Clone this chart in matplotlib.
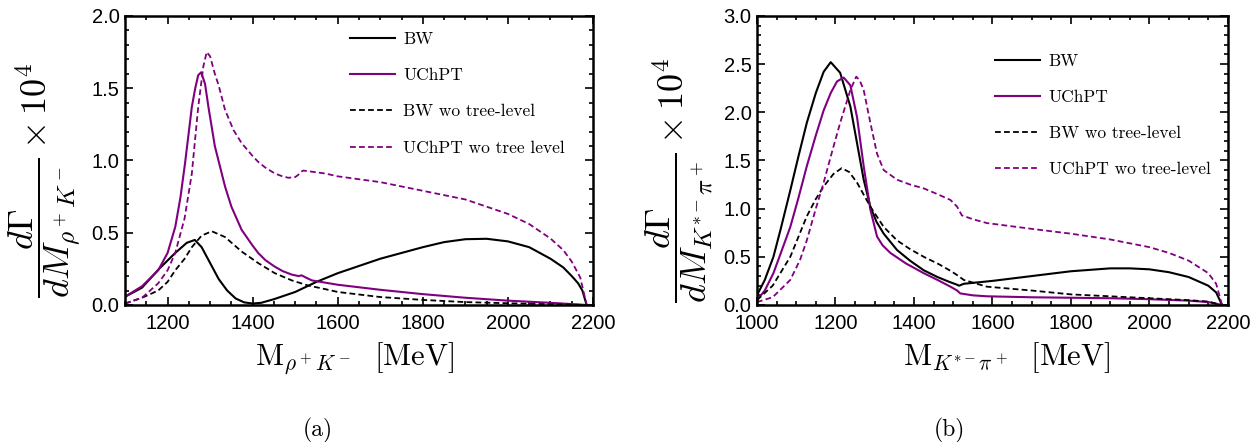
import numpy as np
import matplotlib
import matplotlib.pyplot as plt
from matplotlib.ticker import MultipleLocator, FormatStrFormatter

# ---- panel (a): rho+ K- ----
bw_a_x = [1100, 1140, 1180, 1218, 1245, 1264, 1280, 1300, 1320, 1340, 1360, 1380, 1400,
          1420, 1450, 1500, 1550, 1600, 1700, 1800, 1850, 1900, 1950, 2000, 2050, 2100, 2130,
          2150, 2165, 2175, 2185]
bw_a_y = [0.057, 0.12, 0.25, 0.36, 0.43, 0.45, 0.40, 0.29, 0.18, 0.1, 0.045, 0.018, 0.01,
          0.015, 0.04, 0.09, 0.16, 0.22, 0.32, 0.40, 0.435, 0.455, 0.458, 0.44, 0.40, 0.32, 0.26,
          0.2, 0.15, 0.1, 0.0]

uc_a_x = [1100, 1140, 1178, 1200, 1218, 1230, 1241, 1250, 1257, 1265, 1272, 1279, 1288, 1296,
          1311, 1335, 1350, 1374, 1400, 1413, 1430, 1452, 1470, 1492, 1508, 1515, 1525, 1539,
          1600, 1700, 1800, 1900, 2000, 2100, 2185]
uc_a_y = [0.057, 0.13, 0.24, 0.36, 0.54, 0.74, 0.98, 1.2, 1.37, 1.5, 1.59, 1.61, 1.53, 1.37,
          1.10, 0.82, 0.68, 0.52, 0.41, 0.36, 0.31, 0.265, 0.235, 0.21, 0.2, 0.205, 0.19, 0.17,
          0.14, 0.105, 0.075, 0.05, 0.03, 0.015, 0.0]

bwd_a_x = [1100, 1140, 1178, 1200, 1218, 1240, 1257, 1280, 1304, 1335, 1374, 1413, 1452, 1492,
           1530, 1570, 1600, 1700, 1800, 1900, 2000, 2100, 2185]
bwd_a_y = [0.01, 0.05, 0.10, 0.16, 0.24, 0.32, 0.40, 0.48, 0.51, 0.47, 0.37, 0.29, 0.22, 0.17,
           0.135, 0.11, 0.09, 0.055, 0.035, 0.02, 0.012, 0.005, 0.0]

ucd_a_x = [1100, 1140, 1178, 1200, 1218, 1240, 1257, 1272, 1284, 1292, 1300, 1311, 1320, 1335,
           1355, 1374, 1400, 1413, 1430, 1452, 1470, 1484, 1500, 1507, 1513, 1519, 1570, 1600,
           1700, 1800, 1900, 2000, 2050, 2100, 2130, 2150, 2170, 2185]
ucd_a_y = [0.01, 0.05, 0.15, 0.24, 0.36, 0.6, 0.91, 1.37, 1.65, 1.75, 1.72, 1.60, 1.52, 1.35,
           1.21, 1.12, 1.03, 0.99, 0.95, 0.91, 0.89, 0.88, 0.885, 0.9, 0.92, 0.93, 0.91, 0.89,
           0.85, 0.79, 0.73, 0.63, 0.56, 0.46, 0.38, 0.3, 0.19, 0.0]

# ---- panel (b): K*- pi+ ----
bw_b_x = [1000, 1020, 1042, 1060, 1085, 1105, 1127, 1150, 1170, 1188, 1212, 1238, 1255, 1272,
          1289, 1305, 1323, 1357, 1390, 1425, 1460, 1490, 1510, 1515, 1527, 1600, 1700,
          1800, 1900, 1950, 2000, 2050, 2100, 2150, 2170, 2185]
bw_b_y = [0.10, 0.26, 0.50, 0.78, 1.19, 1.53, 1.89, 2.2, 2.42, 2.52, 2.41, 2.06, 1.68, 1.30,
          1.02, 0.86, 0.74, 0.57, 0.46, 0.36, 0.29, 0.24, 0.21, 0.2, 0.22, 0.25, 0.3,
          0.35, 0.38, 0.38, 0.37, 0.34, 0.29, 0.2, 0.13, 0.0]

uc_b_x = [1000, 1020, 1042, 1060, 1085, 1105, 1127, 1150, 1170, 1188, 1204, 1221, 1238, 1255,
          1272, 1289, 1306, 1320, 1340, 1380, 1425, 1460, 1493, 1510, 1518, 1550, 1586, 1700,
          1800, 1900, 2000, 2100, 2150, 2185]
uc_b_y = [0.05, 0.15, 0.33, 0.53, 0.81, 1.1, 1.44, 1.76, 2.02, 2.2, 2.32, 2.36, 2.28, 1.95,
          1.44, 0.99, 0.71, 0.62, 0.54, 0.43, 0.33, 0.26, 0.19, 0.15, 0.12, 0.1, 0.09, 0.08,
          0.075, 0.07, 0.06, 0.045, 0.03, 0.0]

bwd_b_x = [1000, 1040, 1085, 1110, 1127, 1150, 1170, 1195, 1216, 1235, 1255, 1289, 1323, 1357,
           1390, 1425, 1465, 1495, 1510, 1527, 1560, 1586, 1700, 1800, 1900, 2000, 2100, 2150,
           2185]
bwd_b_y = [0.05, 0.2, 0.5, 0.75, 0.92, 1.1, 1.23, 1.36, 1.42, 1.38, 1.27, 1.02, 0.81, 0.67,
           0.58, 0.50, 0.42, 0.35, 0.31, 0.26, 0.22, 0.19, 0.15, 0.11, 0.09, 0.07, 0.05, 0.035,
           0.0]

ucd_b_x = [1000, 1040, 1085, 1110, 1127, 1150, 1170, 1190, 1212, 1238, 1253, 1262, 1272, 1289,
           1306, 1323, 1357, 1390, 1425, 1460, 1493, 1510, 1522, 1550, 1586, 1700, 1800, 1900,
           2000, 2050, 2100, 2150, 2170, 2185]
ucd_b_y = [0.03, 0.08, 0.26, 0.47, 0.67, 1.0, 1.27, 1.57, 1.89, 2.23, 2.37, 2.33, 2.23, 1.89,
           1.57, 1.40, 1.30, 1.25, 1.21, 1.15, 1.09, 1.02, 0.93, 0.89, 0.85, 0.79, 0.74, 0.68,
           0.6, 0.54, 0.46, 0.33, 0.22, 0.0]

labels = ["BW", "UChPT", "BW wo tree-level"]
label4_a = "UChPT wo tree level"
label4_b = "UChPT wo tree-level"

purple = "#800080"
dash = (0, (3.2, 1.8))

plt.rcParams["font.family"] = ["Liberation Sans", "DejaVu Sans"]
plt.rcParams["mathtext.fontset"] = "cm"


def style_axes(ax, xlim, ylim, xmin, xmaj, ymin, ymaj):
    ax.set_xlim(*xlim)
    ax.set_ylim(*ylim)
    ax.xaxis.set_major_locator(MultipleLocator(xmaj))
    ax.xaxis.set_minor_locator(MultipleLocator(xmin))
    ax.yaxis.set_major_locator(MultipleLocator(ymaj))
    ax.yaxis.set_minor_locator(MultipleLocator(ymin))
    ax.yaxis.set_major_formatter(FormatStrFormatter("%.1f"))
    ax.tick_params(which="both", direction="in", top=True, right=True, labelsize=14.5,
                   width=1.2, pad=4)
    ax.tick_params(axis="x", which="major", pad=6.5)
    ax.tick_params(which="major", length=6)
    ax.tick_params(which="minor", length=3)
    for s in ax.spines.values():
        s.set_linewidth(1.8)


fig = plt.figure(figsize=(12.58, 4.42), dpi=100)
ax1 = fig.add_axes([0.0994, 0.31, 0.372, 0.654])
ax2 = fig.add_axes([0.6017, 0.31, 0.3744, 0.654])

for ax, data, lab4 in [
    (ax1, (bw_a_x, bw_a_y, uc_a_x, uc_a_y, bwd_a_x, bwd_a_y, ucd_a_x, ucd_a_y), label4_a),
    (ax2, (bw_b_x, bw_b_y, uc_b_x, uc_b_y, bwd_b_x, bwd_b_y, ucd_b_x, ucd_b_y), label4_b),
]:
    ax.plot(data[0], data[1], color="black", lw=1.5, label=labels[0])
    ax.plot(data[2], data[3], color=purple, lw=1.5, label=labels[1])
    ax.plot(data[4], data[5], color="black", lw=1.3, ls=dash, label=labels[2])
    ax.plot(data[6], data[7], color=purple, lw=1.3, ls=dash, label=lab4)

style_axes(ax1, (1100, 2200), (0, 2.0), 50, 200, 0.1, 0.5)
style_axes(ax2, (1000, 2200), (0, 3.0), 50, 200, 0.1, 0.5)

leg_kw = dict(loc="upper left", frameon=False, prop={"family": "cmr10", "size": 12.5},
              handlelength=2.6, handletextpad=0.5, labelspacing=1.2, borderpad=0,
              borderaxespad=0)
ax1.legend(bbox_to_anchor=(0.48, 0.945), **leg_kw)
ax2.legend(bbox_to_anchor=(0.505, 0.87), **leg_kw)

ax1.set_ylabel(r"$\dfrac{d\Gamma}{dM_{\rho^+K^-}}\times 10^4$", fontsize=26)
ax2.set_ylabel(r"$\dfrac{d\Gamma}{dM_{K^{*-}\pi^+}}\times 10^4$", fontsize=26)
ax1.yaxis.set_label_coords(-0.092, 0.43)
ax2.yaxis.set_label_coords(-0.089, 0.43)

ax1.set_xlabel(r"$\mathrm{M}_{\rho^+K^-}\ \ [\mathrm{MeV}]$", fontsize=22)
ax2.set_xlabel(r"$\mathrm{M}_{K^{*-}\pi^+}\ \ [\mathrm{MeV}]$", fontsize=22)
ax1.xaxis.set_label_coords(0.49, -0.12)
ax2.xaxis.set_label_coords(0.53, -0.12)

fig.text(0.253, 0.027, "(a)", family="cmr10", fontsize=17, ha="center", va="center")
fig.text(0.755, 0.027, "(b)", family="cmr10", fontsize=17, ha="center", va="center")

fig.savefig("out.png", dpi=100)
